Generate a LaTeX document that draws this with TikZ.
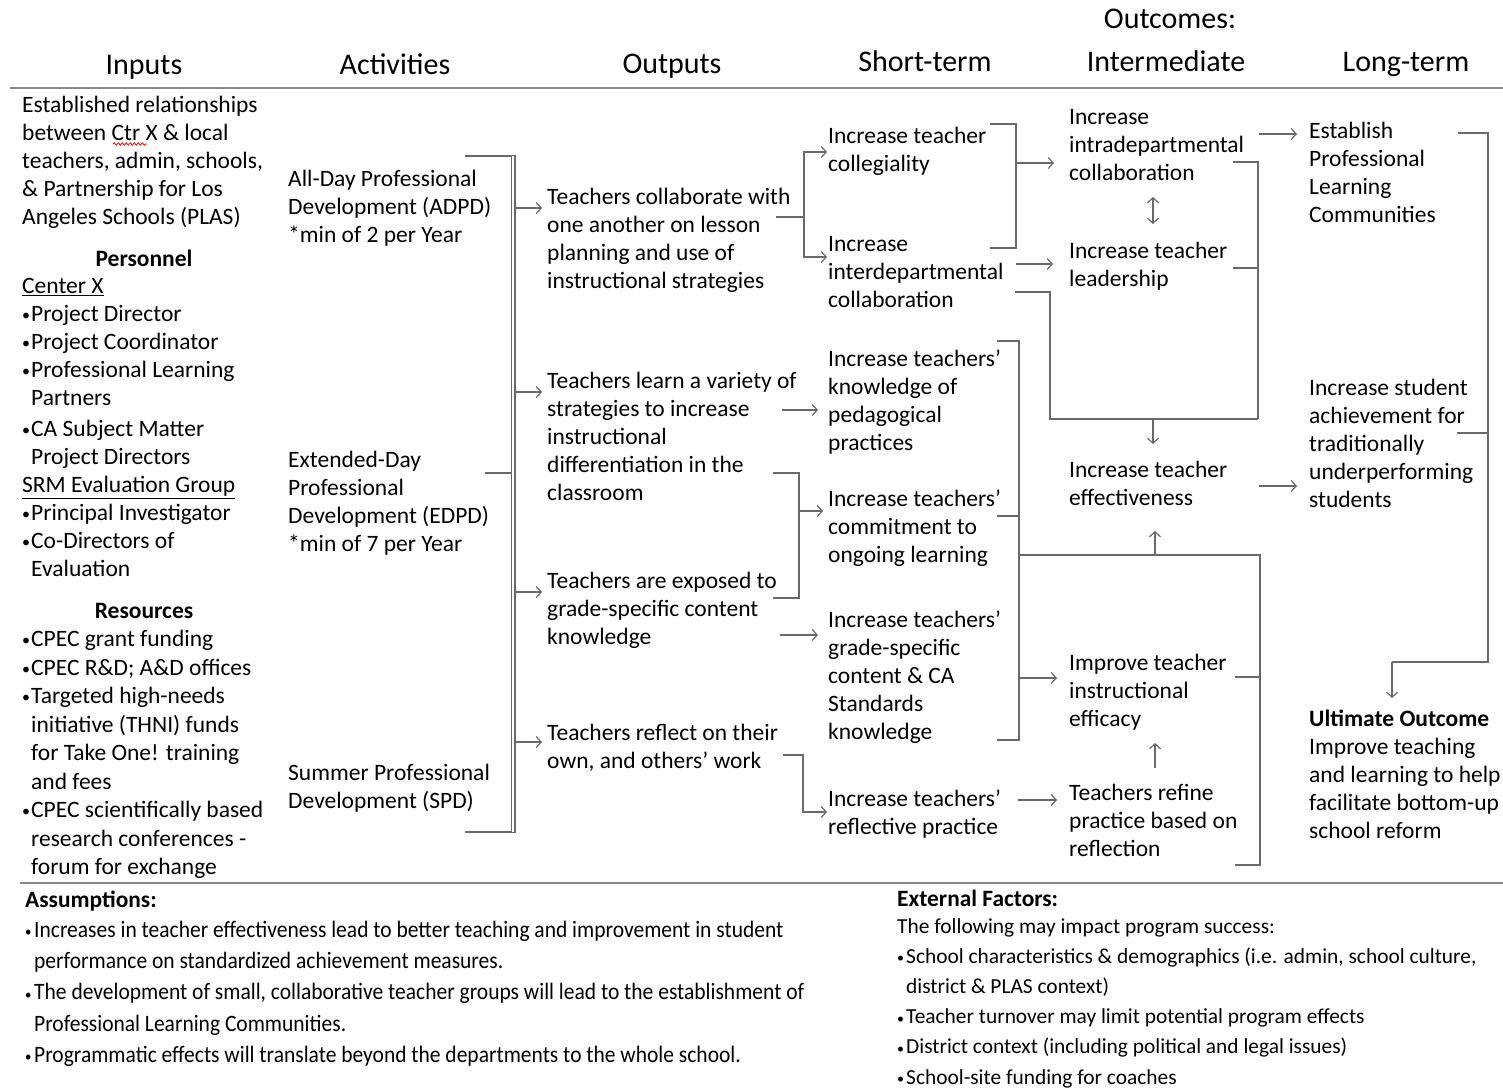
\documentclass[tikz,border=0pt]{standalone}
\usepackage{fontspec}
\setmainfont{Carlito}
\newfontfamily\narrowfont[FakeStretch=0.915]{Carlito}
\usetikzlibrary{arrows.meta,decorations.pathmorphing}
\definecolor{lc}{RGB}{105,105,105}
\newcommand\bul{\makebox[9pt][l]{\fontsize{16}{16}\selectfont\raisebox{0.8pt}{•}}}
\newcommand\sbul{\makebox[9pt][l]{\fontsize{14}{14}\selectfont\raisebox{0.6pt}{•}}}
\newcommand\ind{\hspace*{9pt}}
\begin{document}
\begin{tikzpicture}[x=1pt,y=-1pt,
  txt/.style={anchor=north west, inner sep=0pt, align=left, font=\fontsize{23.5}{28}\selectfont},
  hd/.style={anchor=north, inner sep=0pt, font=\fontsize{23.5}{28}\selectfont\bfseries},
  hdr/.style={anchor=base, inner sep=0pt, font=\fontsize{30}{36}\selectfont},
  btxt/.style={anchor=north west, inner sep=0pt, align=left},
  conn/.style={draw=lc, line width=1.2pt},
  arr/.style={conn, -{Straight Barb[length=5pt,width=11pt]}},
  darr/.style={conn, {Straight Barb[length=5pt,width=11pt]}-{Straight Barb[length=5pt,width=11pt]}}
]
\useasboundingbox (0,0) rectangle (1503,1089);
\fill[white] (0,0) rectangle (1503,1089);

% ---------------- headers ----------------
\node[hdr] (hOut) at (1170,29) {Outcomes:};
\node[hdr] (hIn) at (144,75) {Inputs};
\node[hdr] (hAct) at (395,75) {Activities};
\node[hdr] (hOutp) at (672,74) {Outputs};
\node[hdr] (hST) at (925,72) {Short-term};
\node[hdr] (hIM) at (1166,72) {Intermediate};
\node[hdr] (hLT) at (1406,72) {Long-term};
\coordinate (sepL) at (10,88); \coordinate (sepR) at (1503,88);
\draw[draw=lc!80, line width=2.4pt] (sepL) -- (sepR);

% ---------------- inputs ----------------
\node[txt] (inA) at (22,96) {Established relationships\\between Ctr X \& local\\teachers, admin, schools,\\\& Partnership for Los\\Angeles Schools (PLAS)};
\draw[red, line width=0.8pt, decorate, decoration={snake, amplitude=1.2pt, segment length=4pt}] (113,144) -- (147,144);
\node[hd] (persH) at (144,250) {Personnel};
\node[txt] (inB) at (22,278) {\underline{Center X}\\\bul Project Director\\\bul Project Coordinator\\\bul Professional Learning\\\ind Partners};
\node[txt] (inC) at (22,420) {\bul CA Subject Matter\\\ind Project Directors\\\underline{SRM Evaluation Group}\\\bul Principal Investigator\\\bul Co-Directors of\\\ind Evaluation};
\node[hd] (resH) at (144,603) {Resources};
\node[txt, font=\fontsize{23.5}{28.5}\selectfont] (inD) at (22,630) {\bul CPEC grant funding\\\bul CPEC R\&D; A\&D offices\\\bul Targeted high-needs\\\ind initiative (THNI) funds\\\ind for Take One! training\\\ind and fees\\\bul CPEC scientifically based\\\ind research conferences -\\\ind forum for exchange};

% ---------------- activities ----------------
\node[txt] (acA) at (288,170) {All-Day Professional\\Development (ADPD)\\*min of 2 per Year};
\node[txt] (acB) at (288,451) {Extended-Day\\Professional\\Development (EDPD)\\*min of 7 per Year};
\node[txt] (acC) at (288,764) {Summer Professional\\Development (SPD)};

% ---------------- outputs ----------------
\node[txt] (ouA) at (547,188) {Teachers collaborate with\\one another on lesson\\planning and use of\\instructional strategies};
\node[txt] (ouB) at (547,372) {Teachers learn a variety of\\strategies to increase\\instructional\\differentiation in the\\classroom};
\node[txt] (ouC) at (547,572) {Teachers are exposed to\\grade-specific content\\knowledge};
\node[txt] (ouD) at (547,724) {Teachers reflect on their\\own, and others’ work};

% ---------------- short-term ----------------
\node[txt] (stA) at (828,127) {Increase teacher\\collegiality};
\node[txt] (stB) at (828,236) {Increase\\interdepartmental\\collaboration};
\node[txt] (stC) at (828,350) {Increase teachers’\\knowledge of\\pedagogical\\practices};
\node[txt] (stD) at (828,490) {Increase teachers’\\commitment to\\ongoing learning};
\node[txt] (stE) at (828,611) {Increase teachers’\\grade-specific\\content \& CA\\Standards\\knowledge};
\node[txt] (stF) at (828,790) {Increase teachers’\\reflective practice};

% ---------------- intermediate ----------------
\node[txt] (imA) at (1069,109) {Increase\\intradepartmental\\collaboration};
\node[txt] (imB) at (1069,242) {Increase teacher\\leadership};
\node[txt] (imC) at (1069,461) {Increase teacher\\effectiveness};
\node[txt] (imD) at (1069,654) {Improve teacher\\instructional\\efficacy};
\node[txt] (imE) at (1069,784) {Teachers refine\\practice based on\\reflection};

% ---------------- long-term ----------------
\node[txt] (ltA) at (1309,122) {Establish\\Professional\\Learning\\Communities};
\node[txt] (ltB) at (1309,379) {Increase student\\achievement for\\traditionally\\underperforming\\students};
\node[txt] (ltC) at (1309,710) {\textbf{Ultimate Outcome}\\Improve teaching\\and learning to help\\facilitate bottom-up\\school reform};

% ---------------- activities bracket ----------------
\coordinate (dbT) at (513,156); \coordinate (dbB) at (513,832);
\draw[conn] (465,156) -- (516,156);
\draw[conn] (485,473) -- (511,473);
\draw[conn] (465,832) -- (516,832);
\draw[conn, double=white, double distance=2.6pt] (dbT) -- (dbB);
\draw[arr, shorten >=5pt] (516,208) -- (ouA.west |- 516,208);
\draw[arr, shorten >=5pt] (516,392) -- (ouB.west |- 516,392);
\draw[arr, shorten >=5pt] (516,592) -- (ouC.west |- 516,592);
\draw[arr, shorten >=5pt] (516,742) -- (ouD.west |- 516,742);

% ---------------- outputs -> short-term ----------------
\coordinate (j1) at (804,217);
\draw[conn] (776,217) -- (j1);
\draw[arr, shorten >=1pt] (j1) |- (stA.west |- 0,152);
\draw[arr, shorten >=1pt] (j1) |- (stB.west |- 0,257);
\draw[arr, shorten >=10pt] (782,410) -- (stC.west |- 0,410);
\coordinate (j2) at (799,511);
\draw[conn] (773,473) -- (799,473) -- (799,598) -- (773,598);
\draw[arr, shorten >=5pt] (j2) -- (stD.west |- j2);
\draw[arr, shorten >=10pt] (780,635) -- (stE.west |- 0,635);
\draw[arr, shorten >=1pt] (783,755) -- (803,755) |- (stF.west |- 0,812);

% ---------------- short-term -> intermediate ----------------
\coordinate (j3) at (1016,163);
\draw[conn] (990,124) -- (1016,124) -- (1016,248) -- (990,248);
\draw[arr, shorten >=15pt] (j3) -- (imA.west |- j3);
\draw[arr, shorten >=16pt] (1016,264) -- (imB.west |- 0,264);
\coordinate (j4) at (1153,419);
\coordinate (t4) at (1153,444);
\draw[conn] (1015,292) -- (1050,292) -- (1050,419) -- (1258,419);
\draw[conn] (1233,162) -- (1258,162) -- (1258,419);
\draw[conn] (1233,268) -- (1258,268);
\draw[arr] (j4) -- (t4);
\draw[darr] (1153,197) -- (1153,224);

\coordinate (j5) at (1019,678);
\coordinate (j6) at (1155,555);
\draw[conn] (997,341) -- (1019,341) -- (1019,740) -- (997,740);
\draw[conn] (997,516) -- (1019,516);
\draw[arr, shorten >=12pt] (j5) -- (imD.west |- j5);
\draw[conn] (1019,555) -- (1260,555) -- (1260,865) -- (1235,865);
\draw[conn] (1235,677) -- (1260,677);
\draw[arr] (j6) -- (1155,531);
\draw[arr, shorten >=12pt] (1018,800) -- (imE.west |- 0,800);
\draw[arr] (1155,768) -- (1155,743);

% ---------------- intermediate -> long-term ----------------
\draw[arr, shorten >=12pt] (1259,134) -- (ltA.west |- 0,134);
\draw[arr, shorten >=12pt] (1259,486) -- (ltB.west |- 0,486);
\coordinate (j7) at (1392,662);
\coordinate (t7) at (1392,698);
\draw[conn] (1458,133) -- (1488,133) -- (1488,662) -- (j7);
\draw[conn] (1457,433) -- (1488,433);
\draw[arr] (j7) -- (t7);

% ---------------- bottom ----------------
\draw[draw=lc!80, line width=2.4pt] (20,883) -- (1503,883);
\node[btxt, font=\fontsize{23.4}{31}\selectfont\bfseries] (asH) at (25,891) {Assumptions:};
\node[btxt, font=\fontsize{23.5}{31.2}\selectfont\narrowfont] (asB) at (25,921) {\sbul Increases in teacher effectiveness lead to better teaching and improvement in student\\\ind performance on standardized achievement measures.\\\sbul The development of small, collaborative teacher groups will lead to the establishment of\\\ind Professional Learning Communities.\\\sbul Programmatic effects will translate beyond the departments to the whole school.};
\node[btxt, font=\fontsize{23.4}{30.2}\selectfont\bfseries] (exH) at (897,890) {External Factors:};
\node[btxt, font=\fontsize{21.4}{30.2}\selectfont] (exB) at (897,918) {The following may impact program success:\\\sbul School characteristics \& demographics (i.e. admin, school culture,\\\ind district \& PLAS context)\\\sbul Teacher turnover may limit potential program effects\\\sbul District context (including political and legal issues)\\\sbul School-site funding for coaches};
\end{tikzpicture}
\end{document}
